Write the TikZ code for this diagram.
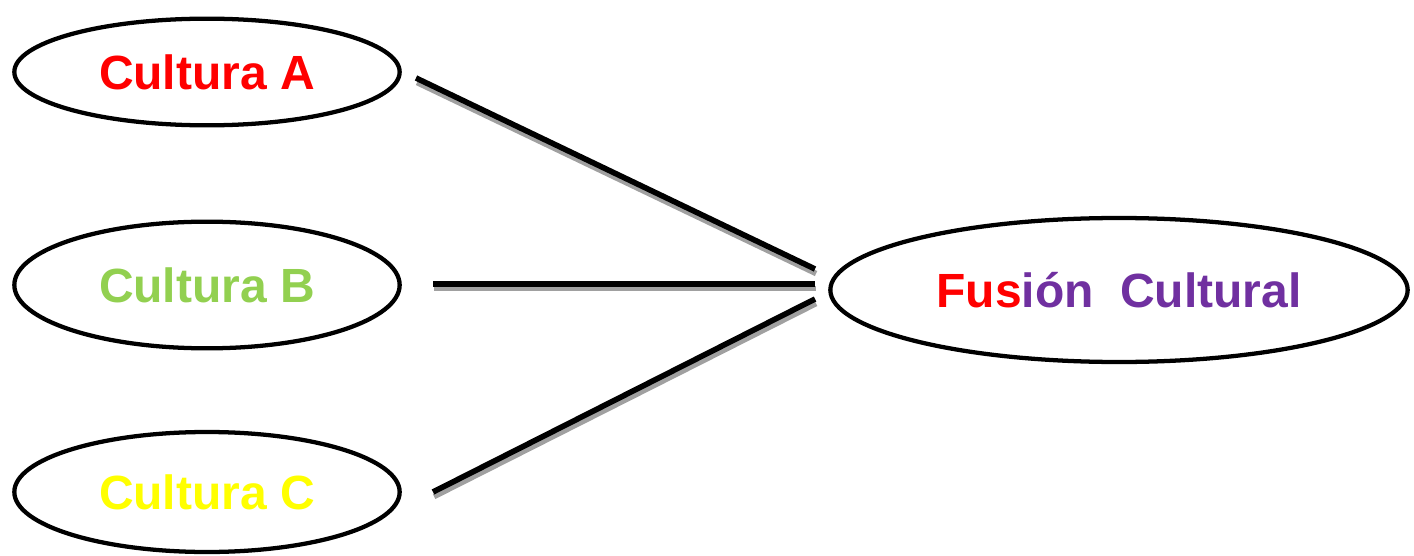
\documentclass[tikz,border=0pt]{standalone}
\usepackage{fontspec}
\setmainfont{Liberation Sans}
\usetikzlibrary{shapes.geometric}
\definecolor{cred}{HTML}{FF0000}
\definecolor{cgreen}{HTML}{92D050}
\definecolor{cyellow}{HTML}{FFFF00}
\definecolor{cpurple}{HTML}{7030A0}
\definecolor{cshadow}{HTML}{A0A0A0}
\begin{document}
\begin{tikzpicture}[x=0.75pt,y=-0.75pt,
  oval/.style={ellipse, draw=black, line width=3.2pt, inner sep=0pt,
    font=\fontsize{36}{40}\selectfont\bfseries},
  conn/.style={line width=4.2pt, draw=black,
    preaction={draw=cshadow, line width=4.2pt, transform canvas={xshift=0.8pt,yshift=-3.4pt}}}]
\useasboundingbox (0,0) rectangle (1414,556);
\node[oval, minimum width=289pt, minimum height=80pt, text=cred] (a) at (207,72) {Cultura A};
\node[oval, minimum width=289pt, minimum height=95pt, text=cgreen] (b) at (207,285) {Cultura B};
\node[oval, minimum width=289pt, minimum height=90pt, text=cyellow] (c) at (207,492) {Cultura C};
\node[oval, minimum width=433pt, minimum height=108pt] (f) at (1119,290) {\textcolor{cred}{Fus}\textcolor{cpurple}{ión\ \ Cultural}};
\coordinate (a1) at (416,78);
\coordinate (a2) at (815,269);
\coordinate (b1) at (433,284);
\coordinate (b2) at (815,284);
\coordinate (c1) at (433,492);
\coordinate (c2) at (815,299);
\draw[conn] (a1) -- (a2);
\draw[conn] (b1) -- (b2);
\draw[conn] (c1) -- (c2);
\end{tikzpicture}
\end{document}
